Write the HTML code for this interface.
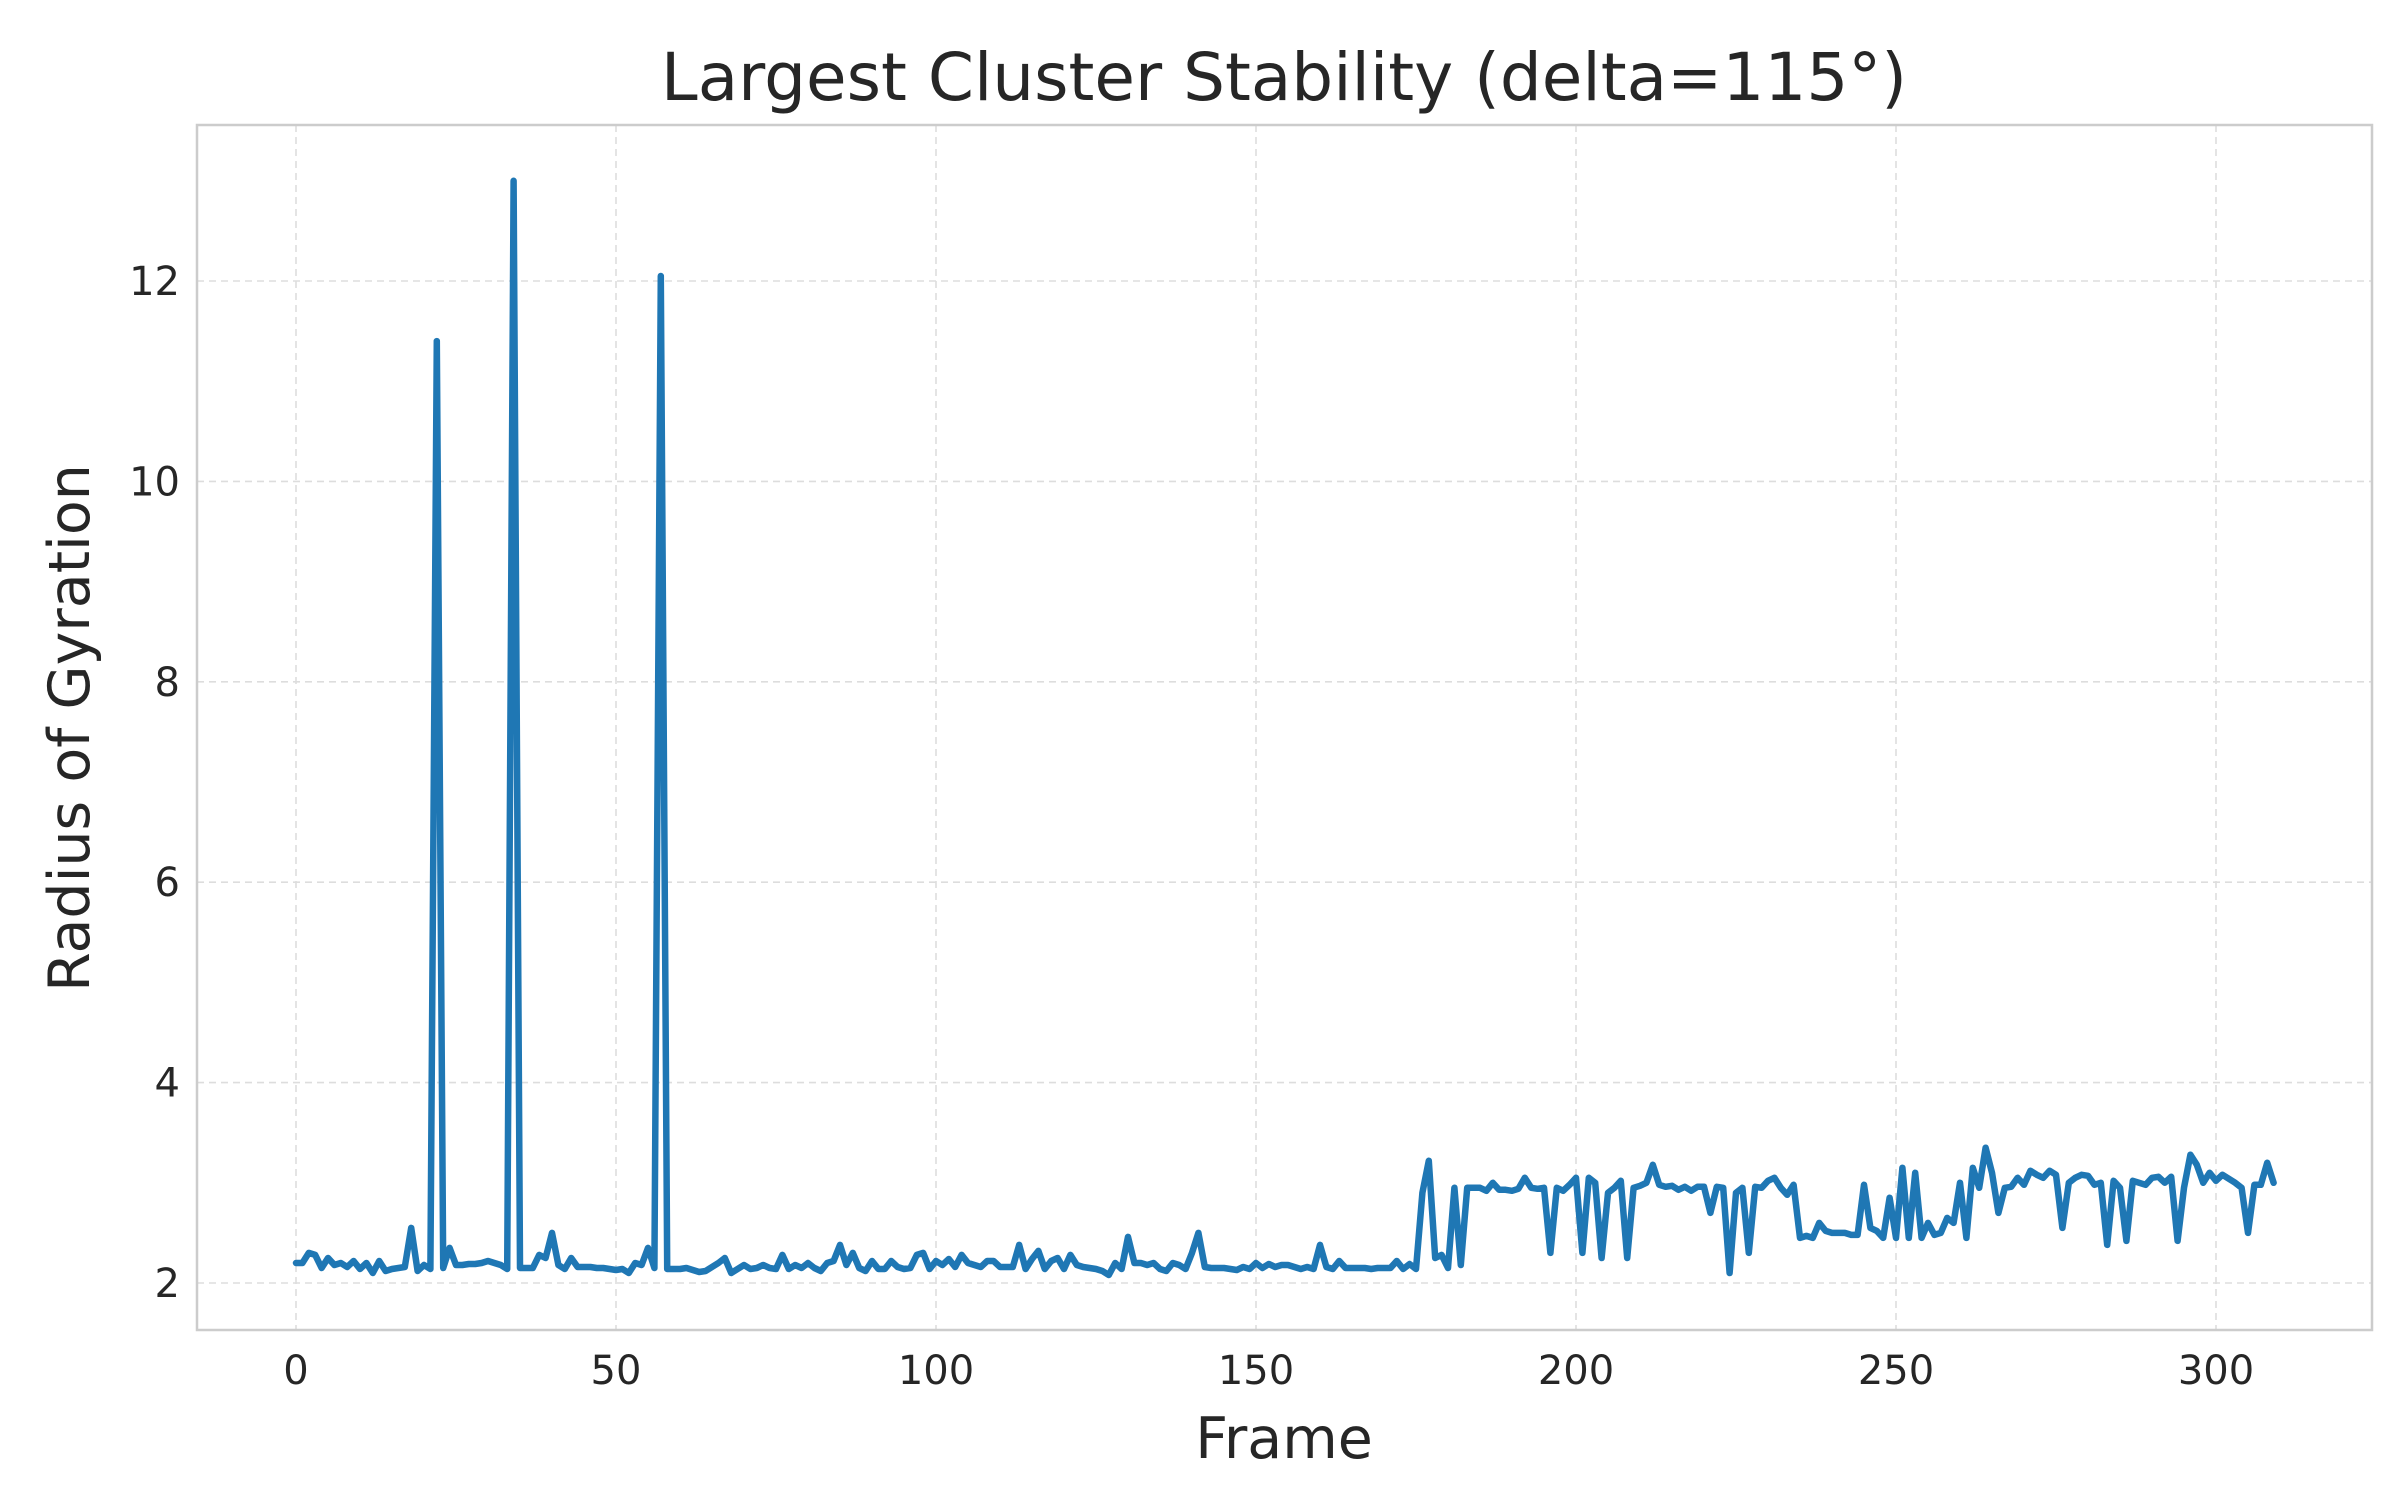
<!DOCTYPE html>
<html><head><meta charset="utf-8"><style>
html,body{margin:0;padding:0;background:#fff;}
svg text{font-family:"DejaVu Sans","Liberation Sans",sans-serif;fill:#262626;}
</style></head><body>
<svg id="chart" width="2400" height="1500" xmlns="http://www.w3.org/2000/svg">
<rect width="2400" height="1500" fill="#fff"/>
<g id="grid"></g>
<g id="ticks"></g>
<path id="series" fill="none" stroke="#1f77b4" stroke-width="6.5" stroke-linejoin="round" stroke-linecap="round"/>
<rect x="197" y="125" width="2175" height="1205" fill="none" stroke="#cccccc" stroke-width="2.5"/>
<text x="1284" y="100" font-size="66" text-anchor="middle">Largest Cluster Stability (delta=115°)</text>
<text x="1284" y="1458" font-size="57" text-anchor="middle">Frame</text>
<text transform="translate(89,728) rotate(-90)" font-size="57" text-anchor="middle">Radius of Gyration</text>
</svg>
<script>
const values = [
2.2,2.2,2.3,2.28,2.15,2.25,2.18,2.2,2.16,2.22,
2.14,2.2,2.1,2.22,2.12,2.14,2.15,2.16,2.55,2.12,
2.18,2.14,11.4,2.15,2.35,2.18,2.18,2.19,2.19,2.2,
2.22,2.2,2.18,2.14,13.0,2.15,2.15,2.15,2.28,2.25,
2.5,2.18,2.14,2.25,2.16,2.16,2.16,2.15,2.15,2.14,
2.13,2.14,2.1,2.2,2.18,2.35,2.15,12.05,2.14,2.14,
2.14,2.15,2.13,2.11,2.12,2.16,2.2,2.25,2.1,2.14,
2.18,2.14,2.15,2.18,2.15,2.14,2.28,2.14,2.18,2.15,
2.2,2.15,2.12,2.2,2.22,2.38,2.18,2.3,2.15,2.12,
2.22,2.14,2.14,2.22,2.16,2.14,2.15,2.28,2.3,2.14,
2.22,2.18,2.24,2.16,2.28,2.2,2.18,2.16,2.22,2.22,
2.16,2.16,2.16,2.38,2.14,2.24,2.32,2.14,2.22,2.25,
2.14,2.28,2.18,2.16,2.15,2.14,2.12,2.08,2.2,2.14,
2.46,2.2,2.2,2.18,2.2,2.14,2.12,2.2,2.18,2.14,
2.3,2.5,2.16,2.15,2.15,2.15,2.14,2.13,2.16,2.14,
2.2,2.15,2.19,2.16,2.18,2.18,2.16,2.14,2.16,2.14,
2.38,2.16,2.14,2.22,2.15,2.15,2.15,2.15,2.14,2.15,
2.15,2.15,2.22,2.14,2.19,2.14,2.9,3.22,2.25,2.28,
2.15,2.95,2.18,2.95,2.95,2.95,2.92,3.0,2.93,2.93,
2.92,2.94,3.05,2.95,2.94,2.95,2.3,2.95,2.92,2.98,
3.05,2.3,3.05,3.0,2.25,2.9,2.95,3.02,2.25,2.95,
2.97,3.0,3.18,2.98,2.96,2.97,2.93,2.96,2.92,2.96,
2.96,2.7,2.96,2.95,2.1,2.9,2.95,2.3,2.96,2.95,
3.02,3.05,2.95,2.88,2.98,2.45,2.47,2.45,2.6,2.52,
2.5,2.5,2.5,2.48,2.48,2.98,2.55,2.52,2.45,2.85,
2.45,3.15,2.45,3.1,2.45,2.6,2.48,2.5,2.65,2.6,
3.0,2.45,3.15,2.95,3.35,3.1,2.7,2.95,2.96,3.05,
2.98,3.12,3.08,3.05,3.12,3.08,2.55,3.0,3.05,3.08,
3.07,2.98,3.0,2.38,3.02,2.95,2.42,3.02,3.0,2.98,
3.05,3.06,3.0,3.06,2.42,2.95,3.28,3.18,3.0,3.1,
3.02,3.08,3.04,3.0,2.95,2.5,2.98,2.98,3.2,3.0
];
const xTicks = [0,50,100,150,200,250,300];
const yTicks = [2,4,6,8,10,12];

const L=197,R=2372,T=125,B=1330;
function xs(f){return 296 + f*(2216-296)/300;}
function ys(v){return 1283 - (v-2)*(1283-281)/10;}
const NS="http://www.w3.org/2000/svg";
const grid=document.getElementById('grid'), ticks=document.getElementById('ticks');
xTicks.forEach(t=>{
  const x=xs(t);
  const l=document.createElementNS(NS,'line');
  l.setAttribute('x1',x);l.setAttribute('x2',x);l.setAttribute('y1',T);l.setAttribute('y2',B);
  l.setAttribute('stroke','#dddddd');l.setAttribute('stroke-width','1.6');l.setAttribute('stroke-dasharray','7,5');
  
  
  grid.appendChild(l);
  const tx=document.createElementNS(NS,'text');
  tx.setAttribute('x',x);tx.setAttribute('y',1384);tx.setAttribute('font-size','40');tx.setAttribute('text-anchor','middle');
  tx.textContent=t;
  
  
  ticks.appendChild(tx);
});
yTicks.forEach(t=>{
  const y=ys(t);
  const l=document.createElementNS(NS,'line');
  l.setAttribute('x1',L);l.setAttribute('x2',R);l.setAttribute('y1',y);l.setAttribute('y2',y);
  l.setAttribute('stroke','#dddddd');l.setAttribute('stroke-width','1.6');l.setAttribute('stroke-dasharray','7,5');
  
  
  grid.appendChild(l);
  const tx=document.createElementNS(NS,'text');
  tx.setAttribute('x',180);tx.setAttribute('y',y+14);tx.setAttribute('font-size','40');tx.setAttribute('text-anchor','end');
  tx.textContent=t;
  
  
  ticks.appendChild(tx);
});
document.getElementById('series').setAttribute('d', values.map((v,i)=>(i?'L':'M')+xs(i).toFixed(1)+','+ys(v).toFixed(1)).join(''));
</script>
</body></html>
